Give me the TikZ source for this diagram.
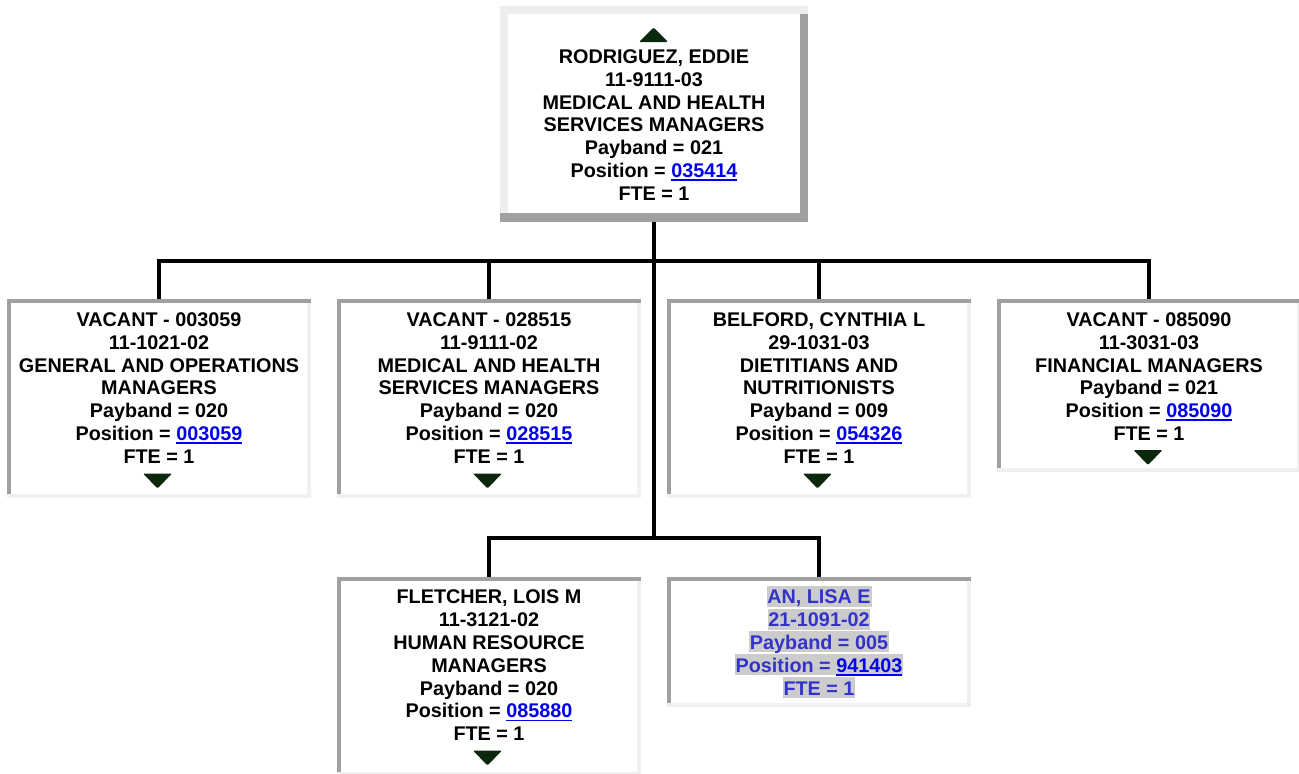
\documentclass[tikz,border=0pt]{standalone}
\usepackage{fontspec}
\setmainfont{Liberation Sans}
\usetikzlibrary{backgrounds}
\definecolor{bdark}{RGB}{160,160,160}
\definecolor{blight}{RGB}{240,240,240}
\definecolor{tlight}{RGB}{238,238,238}
\definecolor{linkblue}{RGB}{0,0,238}
\definecolor{anblue}{RGB}{51,51,204}
\definecolor{hlgray}{RGB}{204,204,204}
\definecolor{arrgreen}{RGB}{12,40,12}
\newcommand\ulink[1]{{\color{linkblue}\setbox0\hbox{#1}\rlap{\rule[-3.3pt]{\wd0}{1.7pt}}\box0}}
\begin{document}
\begin{tikzpicture}[x=1pt,y=-1pt,
  font=\bfseries\fontsize{19.8}{22.9}\selectfont,
  cbox/.style={rectangle, inner sep=0pt, outer sep=0pt, anchor=north west,
    minimum width=304pt, fill=white,
    path picture={
      \fill[blight] (path picture bounding box.south west) rectangle (path picture bounding box.north east);
      \fill[white] ([xshift=4pt,yshift=-4pt]path picture bounding box.north west) rectangle ([xshift=-4pt,yshift=4pt]path picture bounding box.south east);
      \fill[bdark] (path picture bounding box.north west) rectangle ([yshift=-4pt]path picture bounding box.north east);
      \fill[bdark] (path picture bounding box.north west) rectangle ([xshift=4pt,yshift=4pt]path picture bounding box.south west);
    }},
  obox/.style={rectangle, inner sep=0pt, outer sep=0pt, anchor=north west, fill=white,
    path picture={
      \fill[bdark] (path picture bounding box.south west) rectangle (path picture bounding box.north east);
      \fill[white] ([xshift=8pt,yshift=-8pt]path picture bounding box.north west) rectangle ([xshift=-8pt,yshift=9pt]path picture bounding box.south east);
      \fill[tlight] (path picture bounding box.north west) rectangle ([yshift=-8pt]path picture bounding box.north east);
      \fill[tlight] (path picture bounding box.north west) rectangle ([xshift=8pt,yshift=9pt]path picture bounding box.south west);
    }},
  txt/.style={anchor=north, align=center, inner sep=0pt},
  hlline/.style={anchor=base, fill=hlgray, inner xsep=0.8pt, inner ysep=0pt,
    text height=18pt, text depth=3pt, text=anblue},
  conn/.style={line width=4pt, black},
  tri/.style={fill=arrgreen, rounded corners=1.2pt}
]
\useasboundingbox (0,0) rectangle (1299,774);

% boxes
\node[obox, minimum width=308pt, minimum height=216pt] (top) at (500,6) {};
\node[cbox, minimum height=199pt] (b1) at (7,299) {};
\node[cbox, minimum height=199pt] (b2) at (337,299) {};
\node[cbox, minimum height=199pt] (b3) at (667,299) {};
\node[cbox, minimum height=173pt] (b4) at (997,299) {};
\node[cbox, minimum height=199pt] (b5) at (337,577) {};
\node[cbox, minimum height=130pt] (b6) at (667,577) {};

% connectors
\begin{scope}[on background layer]
\coordinate (j1) at (654,261);
\coordinate (j2) at (654,538);
\draw[conn] (top.south) -- (j1) -- (j2);
\draw[conn] (j1) -| (b1.north);
\draw[conn] (j1) -| (b2.north);
\draw[conn] (j1) -| (b3.north);
\draw[conn] (j1) -| (b4.north);
\draw[conn] (j2) -| (b5.north);
\draw[conn] (j2) -| (b6.north);
\end{scope}

% texts
\node[txt] (t0) at (654,49.2) {RODRIGUEZ, EDDIE\\11-9111-03\\MEDICAL AND HEALTH\\SERVICES MANAGERS\\Payband = 021\\Position = \ulink{035414}\\FTE = 1};
\node[txt] (t1) at (159,312.2) {VACANT - 003059\\11-1021-02\\GENERAL AND OPERATIONS\\MANAGERS\\Payband = 020\\Position = \ulink{003059}\\FTE = 1};
\node[txt] (t2) at (489,312.2) {VACANT - 028515\\11-9111-02\\MEDICAL AND HEALTH\\SERVICES MANAGERS\\Payband = 020\\Position = \ulink{028515}\\FTE = 1};
\node[txt] (t3) at (819,312.2) {BELFORD, CYNTHIA L\\29-1031-03\\DIETITIANS AND\\NUTRITIONISTS\\Payband = 009\\Position = \ulink{054326}\\FTE = 1};
\node[txt] (t4) at (1149,312.2) {VACANT - 085090\\11-3031-03\\FINANCIAL MANAGERS\\Payband = 021\\Position = \ulink{085090}\\FTE = 1};
\node[txt] (t5) at (489,589.4) {FLETCHER, LOIS M\\11-3121-02\\HUMAN RESOURCE\\MANAGERS\\Payband = 020\\Position = \ulink{085880}\\FTE = 1};

\node[hlline] (a1) at (819,603.6) {AN, LISA E};
\node[hlline] (a2) at (819,626.5) {21-1091-02};
\node[hlline] (a3) at (819,649.4) {Payband = 005};
\node[hlline] (a4) at (819,672.3) {Position = \ulink{941403}};
\node[hlline] (a5) at (819,695.2) {FTE = 1};

% expand / collapse triangles
\fill[tri] (639,42) -- (668,42) -- (653.5,27.5) -- cycle;
\fill[tri] (143,473.5) -- (172,473.5) -- (157.5,488.5) -- cycle;
\fill[tri] (473,473.5) -- (502,473.5) -- (487.5,488.5) -- cycle;
\fill[tri] (803,473.5) -- (832,473.5) -- (817.5,488.5) -- cycle;
\fill[tri] (1133.5,450) -- (1162.5,450) -- (1148,465) -- cycle;
\fill[tri] (473,750.5) -- (502,750.5) -- (487.5,765.5) -- cycle;
\end{tikzpicture}
\end{document}
